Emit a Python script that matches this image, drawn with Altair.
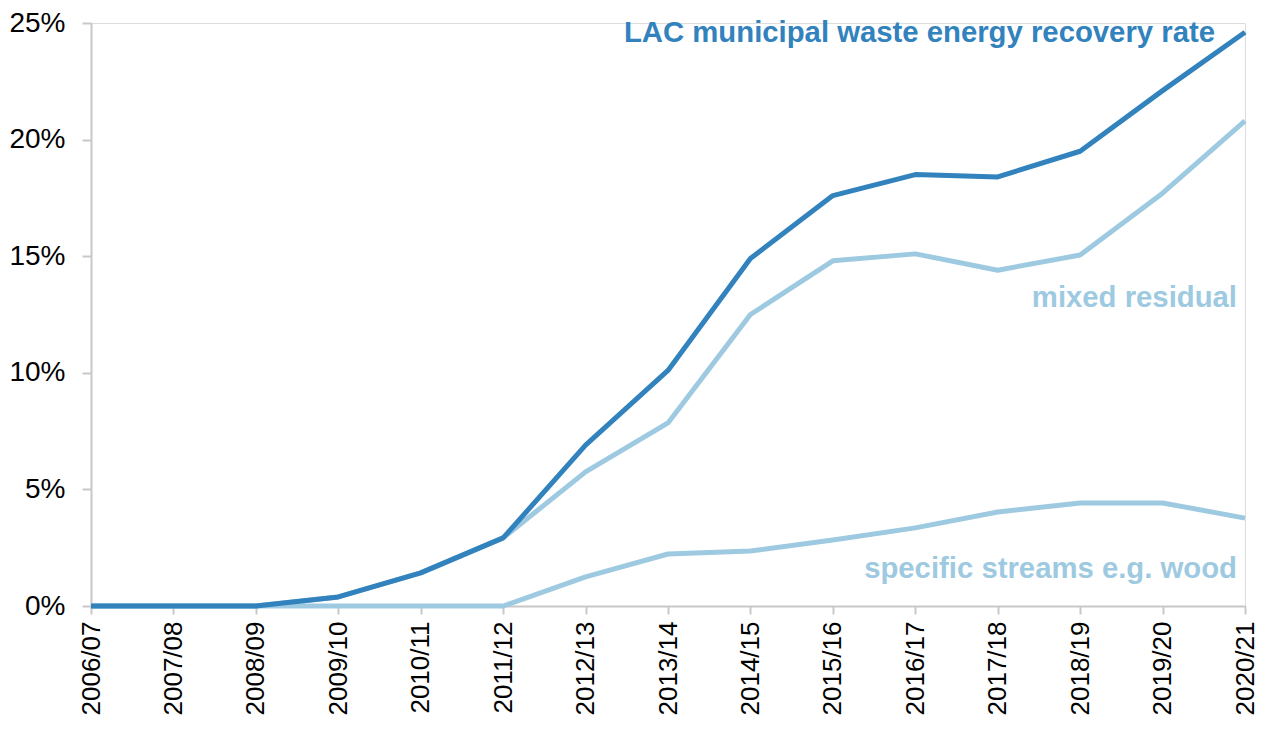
import altair as alt
import pandas as pd

years = ["2006/07", "2007/08", "2008/09", "2009/10", "2010/11", "2011/12", "2012/13",
         "2013/14", "2014/15", "2015/16", "2016/17", "2017/18", "2018/19", "2019/20", "2020/21"]
total = [0.0, 0.0, 0.0, 0.39, 1.42, 2.92, 6.9, 10.1, 14.9, 17.6, 18.5, 18.4, 19.5, 22.1, 24.6]
mixed = [0.0, 0.0, 0.0, 0.39, 1.42, 2.92, 5.75, 7.85, 12.5, 14.8, 15.1, 14.4, 15.05, 17.7, 20.8]
specific = [0.0, 0.0, 0.0, 0.0, 0.0, 0.0, 1.25, 2.23, 2.36, 2.83, 3.35, 4.03, 4.42, 4.42, 3.77]

series_names = ["specific", "mixed", "total"]
series_colors = ["#9ecae1", "#9ecae1", "#3182bd"]

label_texts = ["LAC municipal waste energy recovery rate", "mixed residual", "specific streams e.g. wood"]
label_values = [24.19, 12.82, 1.2]
label_colors = ["#3182bd", "#9ecae1", "#9ecae1"]
label_dx = [-30, -8, -8]

rows = []
for name, vals in zip(series_names, [specific, mixed, total]):
    for i, (yr, v) in enumerate(zip(years, vals)):
        rows.append({"year": yr, "value": v / 100.0, "series": name, "order": i})
df = pd.DataFrame(rows)

FONT = "Liberation Sans"

x_enc = alt.X("year:N", sort=years,
              scale=alt.Scale(type="point", padding=0),
              axis=alt.Axis(title=None, labelAngle=270, labelFontSize=26, labelFont=FONT,
                            labelColor="#000000", domainColor="#c8c8c8", domainWidth=2,
                            tickColor="#c8c8c8", tickWidth=2, tickSize=8, labelPadding=7,
                            grid=False, labelOverlap=False))
y_enc = alt.Y("value:Q",
              scale=alt.Scale(domain=[0, 0.25], nice=False),
              axis=alt.Axis(title=None, format=".0%", values=[0, 0.05, 0.1, 0.15, 0.2, 0.25],
                            labelFontSize=28, labelFont=FONT, labelColor="#000000",
                            domainColor="#c8c8c8", domainWidth=2, tickColor="#c8c8c8",
                            tickWidth=2, tickSize=9, labelPadding=17, grid=False))

layers = []
for name, col in zip(series_names, series_colors):
    layers.append(
        alt.Chart(df[df["series"] == name]).mark_line(color=col, strokeWidth=5, strokeJoin="round")
        .encode(x=x_enc, y=y_enc, order="order:Q")
    )

for txt, val, col, dx in zip(label_texts, label_values, label_colors, label_dx):
    ldf = pd.DataFrame({"year": [years[-1]], "value": [val / 100.0], "text": [txt]})
    layers.append(
        alt.Chart(ldf).mark_text(align="right", baseline="alphabetic", dx=dx, fontSize=29.3,
                                 fontWeight="bold", font=FONT, color=col)
        .encode(x=alt.X("year:N", sort=years), y=alt.Y("value:Q"), text="text:N")
    )

chart = alt.layer(*layers).properties(
    width=1154, height=583,
    autosize=alt.AutoSizeParams(type="none"),
    padding={"left": 83, "top": 15, "right": 13, "bottom": 112},
).configure_view(stroke=None).configure(background="white")

chart.save("out.html", embed_options={"renderer": "svg", "actions": False})
